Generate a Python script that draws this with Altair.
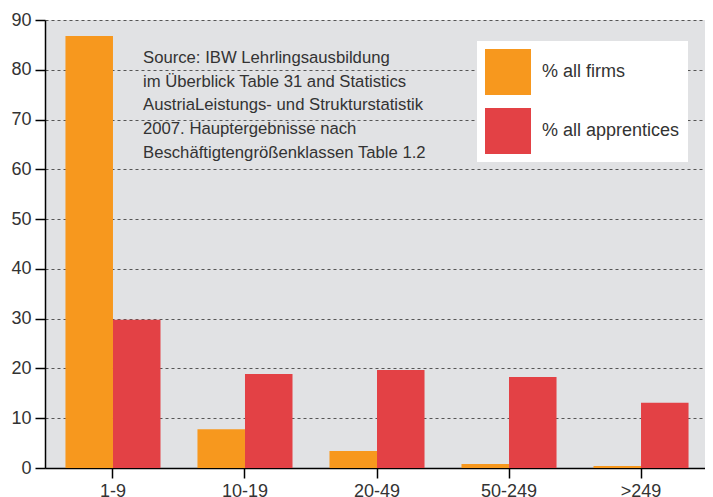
import altair as alt
import pandas as pd

categories = ["1-9", "10-19", "20-49", "50-249", ">249"]
firms = [86.8, 7.8, 3.4, 0.8, 0.4]
apprentices = [29.8, 18.9, 19.7, 18.3, 13.1]
series = ["% all firms", "% all apprentices"]
colors = ["#f7981e", "#e34145"]
y_ticks = [0, 10, 20, 30, 40, 50, 60, 70, 80, 90]
source_lines = [
    "Source: IBW Lehrlingsausbildung",
    "im Überblick Table 31 and Statistics",
    "AustriaLeistungs- und Strukturstatistik",
    "2007. Hauptergebnisse nach",
    "Beschäftigtengrößenklassen Table 1.2",
]

rows = []
for c, f, a in zip(categories, firms, apprentices):
    rows.append({"size": c, "series": series[0], "value": f})
    rows.append({"size": c, "series": series[1], "value": a})
df = pd.DataFrame(rows)

FONT = "Liberation Sans"

bars = alt.Chart(df).mark_bar().encode(
    x=alt.X("size:N", sort=categories,
            scale=alt.Scale(paddingInner=0.28, paddingOuter=0.155, range=[0, 664]),
            axis=alt.Axis(title=None, labelAngle=0, grid=False)),
    xOffset=alt.XOffset("series:N", sort=series,
                        scale=alt.Scale(domain=series, paddingInner=0, paddingOuter=0)),
    y=alt.Y("value:Q", scale=alt.Scale(domain=[0, 90], nice=False),
            axis=alt.Axis(title=None, values=y_ticks, grid=True,
                          gridDash=[3, 3], gridColor="#555555", gridWidth=1)),
    color=alt.Color("series:N", sort=series,
                    scale=alt.Scale(domain=series, range=colors),
                    legend=alt.Legend(title=None, orient="none", legendX=432, legendY=21,
                                      fillColor="white", padding=8,
                                      symbolType="square", symbolSize=2116,
                                      symbolStrokeWidth=0, labelFontSize=18,
                                      labelFont=FONT, labelColor="#333333",
                                      rowPadding=13, labelOffset=11)),
)

note = alt.Chart(pd.DataFrame({"t": ["\n".join(source_lines)]})).mark_text(
    align="left", baseline="top", lineBreak="\n", lineHeight=23.7,
    fontSize=16.7, font=FONT, color="#333333"
).encode(x=alt.value(98), y=alt.value(30), text="t:N")

chart = alt.layer(bars, note).properties(
    width=660, height=448,
    autosize="none",
    padding={"left": 37, "top": 12, "right": 0, "bottom": 29},
    background="white",
).configure_view(
    fill="#e1e2e4", strokeWidth=0
).configure_axis(
    domainColor="black", domainWidth=1.5, tickColor="black", tickWidth=1.5,
    tickSize=10, labelFontSize=18, labelFont=FONT, labelColor="#333333",
    labelPadding=4
)

chart.save("out.html", embed_options={"renderer": "svg", "actions": False})
